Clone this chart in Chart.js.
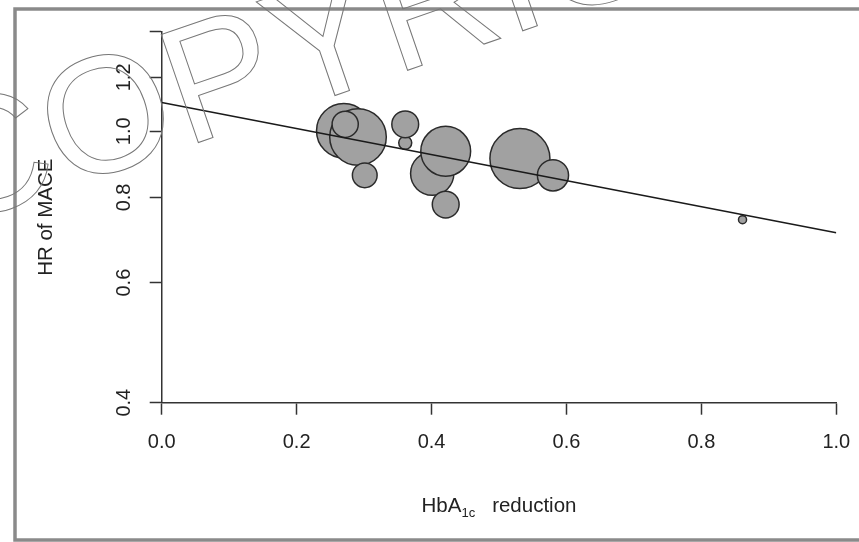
<!DOCTYPE html>
<html><head><meta charset="utf-8">
<script src="https://cdn.jsdelivr.net/npm/chart.js@4/dist/chart.umd.min.js"></script>
<style>html,body{margin:0;padding:0;background:#fff;overflow:hidden}canvas{display:block}</style>
</head><body>
<canvas id="c" width="859" height="542"></canvas>
<script>
// ---- data ----
const studyHbA1cReduction = [0.270, 0.401, 0.291, 0.421, 0.272, 0.301, 0.361, 0.361, 0.421, 0.531, 0.580, 0.861];
const studyHR            = [1.002, 0.867, 0.981, 0.935, 1.024, 0.862, 0.962, 1.024, 0.781, 0.912, 0.862, 0.742];
const studyWeight        = [83, 52, 89, 69, 19, 17, 4.7, 20, 20, 100, 27, 1.8];
const fitX  = [0, 1];
const fitHR = [1.102, 0.710];
const xTicks = [0, 0.2, 0.4, 0.6, 0.8, 1.0];
const xTickLabels = ['0.0', '0.2', '0.4', '0.6', '0.8', '1.0'];
const yTicks = [0.4, 0.6, 0.8, 1.0, 1.2, 1.4];
const yTickLabels = ['0.4', '0.6', '0.8', '1.0', '1.2', ''];
const yTitle = 'HR of MACE';
const xTitleMain = 'HbA', xTitleSub = '1c', xTitleRest = 'reduction';
const watermark = 'COPYRIGHT';

// ---- styling ----
const FONT = "'Liberation Sans', Arial, sans-serif";
const TXT = '#222';
const AX = '#333';

const bubbles = studyHbA1cReduction.map((x, i) => ({ x: x, y: studyHR[i], r: 3 * Math.sqrt(studyWeight[i]) }));
const fitLine = fitX.map((x, i) => ({ x: x, y: fitHR[i] }));

const framePlugin = {
  id: 'frame',
  beforeDraw(chart) {
    const ctx = chart.ctx;
    ctx.save();
    ctx.fillStyle = '#fff';
    ctx.fillRect(0, 0, chart.width, chart.height);
    ctx.strokeStyle = '#8a8a8a';
    ctx.lineWidth = 3.5;
    ctx.strokeRect(15, 9, 880, 531);
    ctx.restore();
  },
  afterDraw(chart) {
    const ctx = chart.ctx, area = chart.chartArea;
    ctx.save();
    ctx.fillStyle = TXT;
    ctx.textBaseline = 'alphabetic';
    ctx.textAlign = 'left';
    const big = '20.5px ' + FONT, small = '13px ' + FONT;
    ctx.font = big;
    const w1 = ctx.measureText(xTitleMain).width, w3 = ctx.measureText(xTitleRest).width;
    ctx.font = small;
    const w2 = ctx.measureText(xTitleSub).width;
    const gap = 17;
    let x = (area.left + area.right) / 2 - (w1 + w2 + gap + w3) / 2;
    const base = 512;
    ctx.font = big; ctx.fillText(xTitleMain, x, base); x += w1;
    ctx.font = small; ctx.fillText(xTitleSub, x, base + 5); x += w2 + gap;
    ctx.font = big; ctx.fillText(xTitleRest, x, base);
    // watermark outline text
    ctx.translate(-50, 228);
    ctx.rotate(-19 * Math.PI / 180);
    ctx.font = '166px ' + FONT;
    ctx.strokeStyle = '#777';
    ctx.lineWidth = 1;
    ctx.strokeText(watermark, 0, 0);
    ctx.restore();
  }
};

new Chart(document.getElementById('c'), {
  type: 'bubble',
  data: {
    datasets: [
      { type: 'line', data: fitLine, borderColor: '#1a1a1a', borderWidth: 1.5, pointRadius: 0, fill: false, tension: 0 },
      { type: 'bubble', data: bubbles, backgroundColor: '#a1a1a1', borderColor: '#2b2b2b', borderWidth: 1.5 }
    ]
  },
  options: {
    responsive: false,
    devicePixelRatio: 1,
    animation: false,
    events: [],
    layout: { autoPadding: false, padding: { top: 31.7, right: 22.7, bottom: 0, left: 0 } },
    plugins: { legend: { display: false }, tooltip: { enabled: false } },
    scales: {
      x: {
        type: 'linear', position: 'bottom', min: 0, max: 1, bounds: 'data',
        afterBuildTicks: s => { s.ticks = xTicks.map(v => ({ value: v })); },
        afterFit: s => { s.height = 139.3; s.paddingLeft = 0; s.paddingRight = 0; },
        ticks: { callback: (v, i) => xTickLabels[i], font: { family: FONT, size: 20 }, color: TXT, padding: 16, minRotation: 0, maxRotation: 0, autoSkip: false },
        grid: { display: true, drawOnChartArea: false, drawTicks: true, tickLength: 12, tickColor: AX, tickWidth: 1.5 },
        border: { display: true, color: AX, width: 1.5 }
      },
      y: {
        type: 'logarithmic', position: 'left', min: 0.4, max: 1.4, bounds: 'data',
        afterBuildTicks: s => { s.ticks = yTicks.map(v => ({ value: v })); },
        afterFit: s => { s.width = 161.7; s.paddingTop = 0; s.paddingBottom = 0; },
        ticks: { callback: (v, i) => yTickLabels[i], font: { family: FONT, size: 20 }, color: TXT, padding: 11, minRotation: 90, maxRotation: 90, crossAlign: 'center', autoSkip: false },
        grid: { display: true, drawOnChartArea: false, drawTicks: true, tickLength: 12, tickColor: AX, tickWidth: 1.5 },
        border: { display: true, color: AX, width: 1.5 },
        title: { display: true, text: yTitle, font: { family: FONT, size: 20.5 }, color: TXT, padding: { top: 34, bottom: 0 } }
      }
    }
  },
  plugins: [framePlugin]
});
</script>
</body></html>
